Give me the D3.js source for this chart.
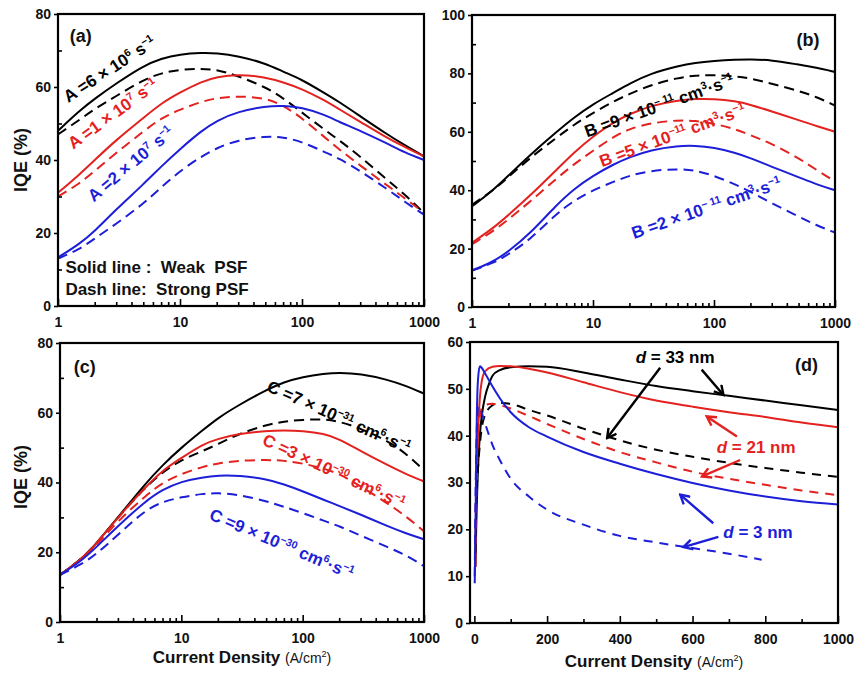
<!DOCTYPE html>
<html><head><meta charset="utf-8">
<script src="https://cdn.jsdelivr.net/npm/d3@7"></script>
<style>
body{margin:0;background:#fff;}
svg text{font-family:"Liberation Sans",Arial,sans-serif;font-weight:bold;}
</style></head><body>
<svg id="fig" width="856" height="675"></svg>
<script>
// ---- data -------------------------------------------------------------
// shared current-density grid (A/cm^2) for the log-scale panels
const xLog = [1,1.5,2,3,5,7,10,15,20,30,50,70,100,150,200,300,500,700,1000];

// (a) SRH coefficient A
const aBlackSolid = [48,53.5,56.8,61,65.8,67.8,69,69.4,69.3,68.5,66.5,64.2,62,58.5,56,52,47,44,41];
const aBlackDash  = [47,51,54,57.5,62,63.8,64.8,65,64.8,63,60,57,53,48.5,45.5,41,34.5,30.5,25.5];
const aRedSolid   = [31,36,40,45.5,51.5,55.5,58.5,61.5,62.8,63.5,62.7,61.3,59.5,56.5,54,50.5,46,43.5,41];
const aRedDash    = [30,33.5,37,42,47.8,51.5,53.8,56,57,57.5,57,55,51.5,46.5,43,38.5,33,29.5,25.5];
const aBlueSolid  = [13.3,17,20.5,26.5,33.3,38.2,43,48,50.8,53.3,54.7,54.9,54.4,52.5,50.5,48,44.5,42,40];
const aBlueDash   = [13,15.5,18.5,22.5,28,32.5,37,41,43.3,45.5,46.5,46.3,45,42.3,40.5,37,32,28.5,25];

// (b) radiative coefficient B
const bBlackSolid = [34.5,40,45,52,60,65,69.5,73.5,76.5,80,82.5,83.7,84.3,84.7,84.8,84.6,83,82,80.5];
const bBlackDash  = [35,40,44.5,51,58,62.5,66.5,70.5,73,76,78.5,79.3,79.5,79,78.3,76.5,74,72,69];
const bRedSolid   = [22,27,31.5,38,47,53,58.5,63.5,66,69,70.8,71.3,71.3,70.5,69.3,67,64,62,60];
const bRedDash    = [21.5,26,30,36,44,49,53.5,58.5,61,63,64,63.8,62.8,61,58.8,56,51,47,43];
const bBlueSolid  = [12.5,15.5,19,25,35,40.5,45,49,51.3,53.8,55.2,55.3,54.6,52.8,51,48,44.5,42,40];
const bBlueDash   = [12.5,15,18,23,32,36.5,40,43,45,46.7,47.3,46.8,45,42,39.5,35.5,31,28,25.5];

// (c) Auger coefficient C
const cBlackSolid = [13.5,18,22.5,30,39.5,45,50,55,58.5,62.3,66.5,68.8,70.3,71.2,71.5,71.2,69.5,67.8,65.5];
const cBlackDash  = [13.5,18,22.5,30,38.5,43,46.5,49,51,54,56.5,57.5,58,58.2,57.5,55.5,52,48.5,43.5];
const cRedSolid   = [13.5,18,22.5,30,38.5,43.5,47,51,52.5,54,54.8,55,54.8,54,52.5,49,45,42.5,40.3];
const cRedDash    = [13.5,17.8,22,29,36,40,42.5,44.5,45.5,46.3,46.5,46.3,45.5,44,42.5,39,34,30.5,26];
const cBlueSolid  = [13.5,17.5,21.5,27.5,34.5,38,40.3,41.5,42,42,41,39.5,37.5,35,33.3,30.8,27.5,25.5,23.7];
const cBlueDash   = [13.5,16.5,19.5,25,32,34.5,35.8,36.8,37,36.5,34.7,33,31.3,29,27.5,24.8,21.5,19.3,16];

// (d) active-layer thickness, linear current density
const dX33Solid = [3,5,10,15,20,30,40,50,70,100,150,200,300,400,500,600,700,800,900,1000];
const d33Solid  = [12,20,33,40,44,48.5,51,52.8,54,54.6,54.8,54.7,53.5,52,50.6,49.5,48.5,47.5,46.5,45.5];
const dX33Dash  = [3,5,10,15,20,30,50,70,100,150,200,300,400,500,600,700,800,900,1000];
const d33Dash   = [15,25,33,38,41.5,44.5,46.5,47,46.8,45.5,44.3,41.5,39,37,35.5,34.2,33.1,32.1,31.2];
const dX21Solid = [3,5,10,15,20,30,50,70,100,150,200,300,400,500,600,700,800,900,1000];
const d21Solid  = [12,25,40,48,51.5,53.8,54.7,54.9,54.8,54.3,53.5,51.4,49.3,47.5,46.2,45,44,42.8,41.8];
const dX21Dash  = [3,5,10,15,20,30,50,70,100,150,200,300,400,500,600,700,800,900,1000];
const d21Dash   = [20,30,40,44,45.8,46.6,46.8,46.5,45.8,44.2,42.5,39.3,36.5,34.3,32.3,30.8,29.5,28.3,27.3];
const dX3Solid  = [1,3,5,7,10,15,20,30,50,70,100,150,200,300,400,500,600,700,800,900,1000];
const d3Solid   = [8.5,20,35,45,52,54.8,54.5,53.2,50.5,48,45,41.8,39.8,36.5,34,31.8,29.9,28.3,27,26,25.3];
const dX3Dash   = [1,3,5,7,10,15,20,30,50,70,100,150,200,300,400,500,600,700,790];
const d3Dash    = [10,25,36,42,46,46.3,45,42.5,38,34.8,30.8,27,24.2,21,18.6,17.2,16,14.8,13.5];

// axis ticks
const logMajor = [1,10,100,1000];
const logMinor = [2,3,4,5,6,7,8,9,20,30,40,50,60,70,80,90,200,300,400,500,600,700,800,900];
const linMajor = [0,200,400,600,800,1000];
const linMinor = [100,300,500,700,900];

// ---- styling ------------------------------------------------------------
const BLACK = "#000000", RED = "#e3221f", BLUE = "#1c1ed8";
const FONT = '"Liberation Sans", Arial, sans-serif';

const svg = d3.select("#fig");

const panels = [
  {key:"a", box:[58,14,424,306], log:true, yMax:80, yStep:20,
   series:[[xLog,aBlackSolid,BLACK,false],[xLog,aBlackDash,BLACK,true],
           [xLog,aRedSolid,RED,false],[xLog,aRedDash,RED,true],
           [xLog,aBlueSolid,BLUE,false],[xLog,aBlueDash,BLUE,true]]},
  {key:"b", box:[472,15,835,307], log:true, yMax:100, yStep:20,
   series:[[xLog,bBlackSolid,BLACK,false],[xLog,bBlackDash,BLACK,true],
           [xLog,bRedSolid,RED,false],[xLog,bRedDash,RED,true],
           [xLog,bBlueSolid,BLUE,false],[xLog,bBlueDash,BLUE,true]]},
  {key:"c", box:[60,343,424,622], log:true, yMax:80, yStep:20,
   series:[[xLog,cBlackSolid,BLACK,false],[xLog,cBlackDash,BLACK,true],
           [xLog,cRedSolid,RED,false],[xLog,cRedDash,RED,true],
           [xLog,cBlueSolid,BLUE,false],[xLog,cBlueDash,BLUE,true]]},
  {key:"d", box:[470,342,838,623], log:false, yMax:60, yStep:10,
   series:[[dX33Solid,d33Solid,BLACK,false],[dX21Solid,d21Solid,RED,false],
           [dX33Dash,d33Dash,BLACK,true],[dX21Dash,d21Dash,RED,true],
           [dX3Solid,d3Solid,BLUE,false],[dX3Dash,d3Dash,BLUE,true]]}
];

// text with superscripts: parts starting with "^" are raised
function richText(g, x, y, angle, parts, color, size, anchor) {
  const t = g.append("text")
    .attr("transform", `translate(${x},${y}) rotate(${angle})`)
    .attr("fill", color).attr("font-size", size)
    .attr("text-anchor", anchor || "start")
    .attr("dy", "0.35em")
    .style("white-space", "pre");
  let raised = false;
  parts.forEach(p => {
    const sup = p.startsWith("^");
    const s = t.append("tspan").text(sup ? p.slice(1) : p);
    if (sup) {
      s.attr("font-size", size * 0.62);
      if (!raised) s.attr("dy", -size * 0.38);
      raised = true;
    } else if (raised) {
      s.attr("dy", size * 0.38);
      raised = false;
    }
  });
  return t;
}

const scales = {};

panels.forEach(p => {
  const [L, T, R, B] = p.box;
  const x = p.log
    ? d3.scaleLog().domain([1, 1000]).range([L, R])
    : d3.scaleLinear().domain([-12, 1000]).range([L, R]);
  const y = d3.scaleLinear().domain([0, p.yMax]).range([B, T]);
  scales[p.key] = {x, y};
  const g = svg.append("g");

  // curves: smooth B-spline on the log panels, monotone through the steep rise in (d)
  const line = d3.line().x(d => x(d[0])).y(d => y(d[1]))
    .curve(p.log ? d3.curveBasis : d3.curveMonotoneX);
  p.series.forEach(([xs, ys, col, dash]) => {
    g.append("path")
      .datum(xs.map((v, i) => [v, ys[i]]))
      .attr("d", line)
      .attr("fill", "none")
      .attr("stroke", col)
      .attr("stroke-width", 2)
      .attr("stroke-dasharray", dash ? (p.log ? "10,6" : "9,7") : null);
  });

  // axes
  const fmt = d3.format("d");
  const xa = g.append("g").attr("transform", `translate(0,${B})`)
    .call(d3.axisBottom(x).tickValues(p.log ? logMajor : linMajor)
      .tickSize(-7).tickPadding(11).tickFormat(fmt));
  const xm = g.append("g").attr("transform", `translate(0,${B})`)
    .call(d3.axisBottom(x).tickValues(p.log ? logMinor : linMinor)
      .tickSize(-4).tickFormat(""));
  const yTicks = d3.range(0, p.yMax + 0.1, p.yStep);
  const ya = g.append("g").attr("transform", `translate(${L},0)`)
    .call(d3.axisLeft(y).tickValues(yTicks).tickSize(4).tickPadding(3).tickFormat(fmt));
  const axes = [xa, xm, ya];
  if (p.key !== "d") {
    const yMinor = d3.range(p.yStep / 2, p.yMax, p.yStep);
    axes.push(g.append("g").attr("transform", `translate(${L},0)`)
      .call(d3.axisLeft(y).tickValues(yMinor).tickSize(-4).tickFormat("")));
  }
  axes.forEach(a => {
    a.select(".domain").remove();
    a.selectAll("line").attr("stroke", "#000").attr("stroke-width", 1.6);
    a.attr("font-family", FONT).attr("font-size", 14).attr("font-weight", "bold");
    a.selectAll("text").attr("fill", "#111");
  });

  // frame
  g.append("rect").attr("x", L).attr("y", T).attr("width", R - L).attr("height", B - T)
    .attr("fill", "none").attr("stroke", "#000").attr("stroke-width", 2.2);
});

const ann = svg.append("g");

// panel tags
[["a", 1.25, 72.3, "(a)"], ["b", 480, 89.4, "(b)"], ["c", 1.3, 71.3, "(c)"], ["d", 882, 53.8, "(d)"]]
  .forEach(([k, xv, yv, s]) => {
    const {x, y} = scales[k];
    ann.append("text").attr("x", x(xv)).attr("y", y(yv))
      .attr("font-size", 18).attr("fill", "#111").text(s);
  });

// (a) labels
{
  const {x, y} = scales.a;
  richText(ann, x(1.14), y(57), -33, ["A =6 × 10", "^6", " s", "^−1"], BLACK, 17);
  richText(ann, x(1.25), y(44.1), -36, ["A =1 × 10", "^7", " s", "^−1"], RED, 17);
  richText(ann, x(1.83), y(29.6), -40, ["A =2 × 10", "^7", " s", "^−1"], BLUE, 17);
  ann.append("text").attr("x", x(1.15)).attr("y", y(9.0)).attr("font-size", 17)
    .style("white-space", "pre").attr("fill", "#111").text("Solid line :  Weak  PSF");
  ann.append("text").attr("x", x(1.15)).attr("y", y(3.0)).attr("font-size", 17)
    .style("white-space", "pre").attr("fill", "#111").text("Dash line:  Strong PSF");
}
// (b) labels
{
  const {x, y} = scales.b;
  richText(ann, x(8.6), y(60), -19.5, ["B =9 × 10", "^− 11", " cm", "^3", "·s", "^−1"], BLACK, 17);
  richText(ann, x(11.4), y(49.8), -20, ["B =5 × 10", "^−11", " cm", "^3", "·s", "^−1"], RED, 17);
  richText(ann, x(21), y(25.2), -19, ["B =2 × 10", "^− 11", " cm", "^3", "·s", "^−1"], BLUE, 17);
}
// (c) labels
{
  const {x, y} = scales.c;
  richText(ann, x(52), y(67.9), 24, ["C =7 × 10", "^−31", " cm", "^6", "·s", "^−1"], BLACK, 17);
  richText(ann, x(47.9), y(52.6), 25, ["C =3 × 10", "^−30", " cm", "^6", "·s", "^−1"], RED, 17);
  richText(ann, x(17.4), y(31.1), 23, ["C =9 × 10", "^−30", " cm", "^6", "·s", "^−1"], BLUE, 17);
}
// (d) labels and arrows
{
  const {x, y} = scales.d;
  const defs = svg.append("defs");
  [["k", BLACK], ["r", RED], ["b", BLUE]].forEach(([id, col]) => {
    defs.append("marker").attr("id", "arr-" + id)
      .attr("viewBox", "0 0 12 12").attr("refX", 10).attr("refY", 6)
      .attr("markerWidth", 12).attr("markerHeight", 12).attr("markerUnits", "userSpaceOnUse")
      .attr("orient", "auto")
      .append("path").attr("d", "M1,1 L10,6 L1,11").attr("fill", "none")
      .attr("stroke", col).attr("stroke-width", 2.4);
  });
  const tags = [["d", " = 33 nm", 552, 56.8, BLACK], ["d", " = 21 nm", 775, 37.6, RED], ["d", " = 3 nm", 780, 19.4, BLUE]];
  tags.forEach(([a, b, xv, yv, col]) => {
    const t = ann.append("text").attr("x", x(xv)).attr("y", y(yv)).attr("dy", "0.35em")
      .attr("text-anchor", "middle").attr("font-size", 17).attr("fill", col).style("white-space", "pre");
    t.append("tspan").attr("font-style", "italic").text(a);
    t.append("tspan").text(b);
  });
  const arrows = [
    [625, 54.1, 685, 48.7, "k", BLACK], [511, 54.5, 365, 39.5, "k", BLACK],
    [722, 39.8, 639, 44.1, "r", RED], [731, 34.8, 626, 31.3, "r", RED],
    [657, 21.3, 566, 27.4, "b", BLUE], [671, 18.4, 575, 16.2, "b", BLUE]
  ];
  arrows.forEach(([x1, y1, x2, y2, id, col]) => {
    ann.append("line").attr("x1", x(x1)).attr("y1", y(y1)).attr("x2", x(x2)).attr("y2", y(y2))
      .attr("stroke", col).attr("stroke-width", 2.4).attr("marker-end", `url(#arr-${id})`);
  });
}

// axis titles
function yTitle(cy) {
  ann.append("text").attr("transform", `translate(27,${cy}) rotate(-90)`)
    .attr("text-anchor", "middle").attr("font-size", 18).attr("fill", "#111").text("IQE (%)");
}
yTitle(160); yTitle(477);
function xTitle(cx, by) {
  const t = ann.append("text").attr("x", cx).attr("y", by).attr("text-anchor", "middle")
    .attr("font-size", 17).attr("fill", "#111");
  t.append("tspan").text("Current Density ");
  t.append("tspan").attr("font-size", 14).attr("font-weight", "normal").text("(A/cm");
  t.append("tspan").attr("font-size", 9).attr("font-weight", "normal").attr("dy", -6).text("2");
  t.append("tspan").attr("font-size", 14).attr("font-weight", "normal").attr("dy", 6).text(")");
}
xTitle(242, 663); xTitle(654, 667);
</script></body></html>
